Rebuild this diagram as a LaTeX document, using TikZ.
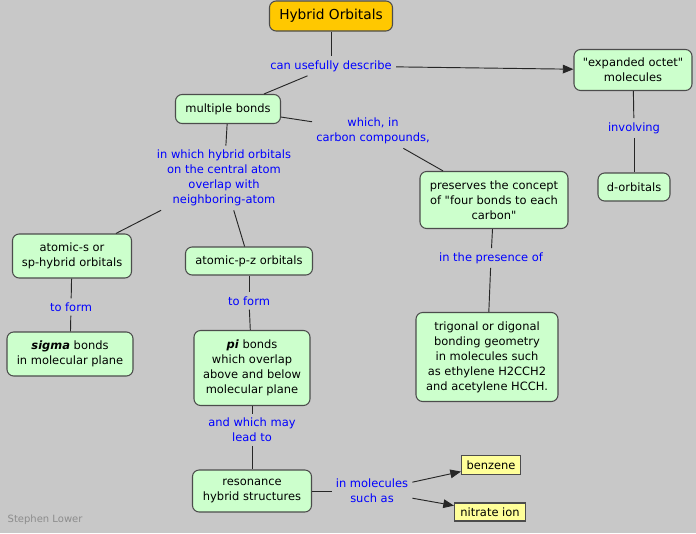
\documentclass[tikz,border=0pt]{standalone}
\usepackage{fontspec}
\setmainfont{DejaVu Sans}[Ligatures=TeXOff]
\usetikzlibrary{arrows.meta}
\definecolor{bg}{RGB}{200,200,200}
\definecolor{cgreen}{RGB}{204,255,204}
\definecolor{corange}{RGB}{255,200,0}
\definecolor{cyellow}{RGB}{255,255,153}
\definecolor{cblue}{RGB}{0,0,255}
\newcommand{\dq}{\symbol{34}}
\begin{document}
\begin{tikzpicture}[x=0.75pt,y=-0.75pt,
  font=\fontsize{8.6}{11.25}\selectfont,
  concept/.style={draw=black!70, fill=cgreen, rounded corners=5pt, align=center, inner sep=1pt, line width=0.8pt},
  example/.style={draw=black!70, fill=cyellow, align=center, inner sep=1pt, line width=0.8pt},
  lbl/.style={text=cblue, align=center, inner sep=3pt},
  conn/.style={draw=black!85, line width=0.7pt},
  arr/.style={conn, -{Triangle[length=8pt,width=6.5pt]}}]
\fill[bg] (0,0) rectangle (696,533);
\useasboundingbox (0,0) rectangle (696,533);
% concepts
\node[concept, fill=corange, font=\fontsize{10.3}{12}\selectfont, minimum width=92.25pt, minimum height=22.5pt] (hyb) at (331,16) {Hybrid Orbitals};
\node[concept, minimum width=88.5pt, minimum height=30.75pt] (exp) at (633,70) {\dq expanded octet\dq\\molecules};
\node[concept, minimum width=78.75pt, minimum height=21.75pt] (multi) at (228,109) {multiple bonds};
\node[concept, minimum width=54pt, minimum height=21pt] (dorb) at (634,187) {d-orbitals};
\node[concept, minimum width=111pt, minimum height=42.75pt] (pres) at (494,200) {preserves the concept\\of \dq four bonds to each\\carbon\dq};
\node[concept, minimum width=89.25pt, minimum height=33pt] (ats) at (72,256) {atomic-s or\\sp-hybrid orbitals};
\node[concept, minimum width=95.25pt, minimum height=21pt] (atpz) at (249,261) {atomic-p-z orbitals};
\node[concept, minimum width=94.5pt, minimum height=33pt] (sigma) at (70,354) {\textbf{\textit{sigma}} bonds\\in molecular plane};
\node[concept, minimum width=87pt, minimum height=56.25pt] (pi) at (252,368) {\textbf{\textit{pi}} bonds\\which overlap\\above and below\\molecular plane};
\node[concept, minimum width=106.5pt, minimum height=66.75pt] (trig) at (487,357) {trigonal or digonal\\bonding geometry\\in molecules such\\as ethylene H2CCH2\\and acetylene HCCH.};
\node[concept, minimum width=89.25pt, minimum height=31.5pt] (reso) at (252,491) {resonance\\hybrid structures};
\node[example, minimum width=44.25pt, minimum height=14.25pt] (benz) at (491,465) {benzene};
\node[example, minimum width=53.25pt, minimum height=13.5pt] (nitr) at (490,512) {nitrate ion};
% link labels
\node[lbl] (l1) at (331,66) {can usefully describe};
\node[lbl] (l2) at (373,131) {which, in\\carbon compounds,};
\node[lbl] (l3) at (634,128) {involving};
\node[lbl] (l4) at (224,178) {in which hybrid orbitals\\on the central atom\\overlap with\\neighboring-atom};
\node[lbl] (l5) at (71,307) {to form};
\node[lbl] (l6) at (249,301) {to form};
\node[lbl] (l7) at (491,258) {in the presence of};
\node[lbl] (l8) at (252,430) {and which may\\lead to};
\node[lbl] (l9) at (372,491) {in molecules\\such as};
% connectors
\draw[conn] (hyb) -- (l1);
\draw[arr] (l1) -- (exp);
\draw[conn] (l1) -- (multi);
\draw[conn] (multi) -- (l2);
\draw[conn] (l2) -- (pres);
\draw[conn] (exp) -- (l3);
\draw[conn] (l3) -- (dorb);
\draw[conn] (multi) -- (l4);
\draw[conn] (l4) -- (ats);
\draw[conn] (l4) -- (atpz);
\draw[conn] (ats) -- (l5);
\draw[conn] (l5) -- (sigma);
\draw[conn] (atpz) -- (l6);
\draw[conn] (l6) -- (pi);
\draw[conn] (pres) -- (l7);
\draw[conn] (l7) -- (trig);
\draw[conn] (pi) -- (l8);
\draw[conn] (l8) -- (reso);
\draw[conn] (reso) -- (l9);
\draw[arr] (l9) -- (benz);
\draw[arr] (l9) -- (nitr);
\node[anchor=west, text=black!45, font=\fontsize{7.5}{9}\selectfont] (sig) at (3,520) {Stephen Lower};
\end{tikzpicture}
\end{document}
